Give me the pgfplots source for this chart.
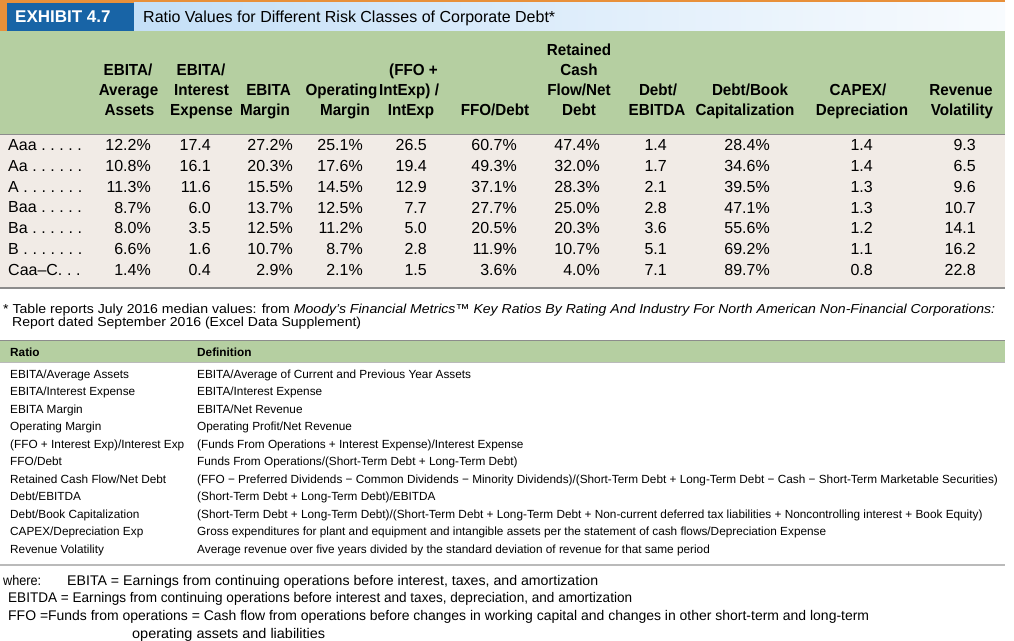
\documentclass[border=0pt]{standalone}
\usepackage{pgfplots}
\pgfplotsset{compat=1.18}
\usepackage{graphicx}
\usepackage{fontspec}
\setmainfont{Liberation Sans}
\definecolor{exorange}{RGB}{232,144,58}
\definecolor{exblue}{RGB}{24,100,166}
\definecolor{titleL}{RGB}{196,223,247}
\definecolor{titleR}{RGB}{248,251,254}
\definecolor{exgreen}{RGB}{181,207,161}
\definecolor{exbeige}{RGB}{241,235,230}
\definecolor{exline}{RGB}{140,140,140}
\newcommand{\dfont}{\fontsize{16bp}{19bp}\selectfont}
\newcommand{\hfont}{\fontsize{16bp}{19bp}\selectfont\bfseries}
\newcommand{\sfont}{\fontsize{11.8bp}{14bp}\selectfont}
\newcommand{\dt}{\hspace{4.6bp}.}
\begin{document}
\begin{tikzpicture}
\begin{scope}[x=1bp, y=-1bp, shift={(0bp,640bp)}]
\path (0,0) rectangle (1014,640);
\fill[exorange] (0,0) rectangle (1005,3);
\fill[exorange] (0,0) rectangle (7,31);
\fill[exblue] (7,3) rectangle (134,31);
\shade[left color=titleL, right color=titleR] (134,3) rectangle (1005,31);
\fill[exgreen] (0,31) rectangle (1005,134);
\fill[exline] (0,134) rectangle (1005,135.5);
\fill[exbeige] (0,135.5) rectangle (1005,287);
\fill[exline] (0,287) rectangle (1005,289);
\fill[exline] (0,340) rectangle (1005,341.5);
\fill[exgreen] (0,341.5) rectangle (1005,362);
\fill[exline!60] (0,362) rectangle (1005,363);
\fill[exline!60] (0,564) rectangle (1005,566);
\end{scope}
\begin{axis}[at={(0,0)}, anchor=south west, scale only axis, width=1014bp, height=640bp,
  xmin=0, xmax=1014, ymin=0, ymax=640, y dir=reverse,
  hide axis, clip=false,
  every node near coord/.append style={anchor=base east, font=\dfont, text=black, inner sep=0pt},
  ]
\addplot[draw=none, mark=none, nodes near coords, point meta=explicit symbolic] coordinates {
 (151,150.3)[12.2\%] (151,171.2)[10.8\%] (151,192.1)[11.3\%] (151,213.0)[8.7\%] (151,233.9)[8.0\%] (151,254.8)[6.6\%] (151,275.7)[1.4\%]};
\addplot[draw=none, mark=none, nodes near coords, point meta=explicit symbolic] coordinates {
 (211,150.3)[17.4] (211,171.2)[16.1] (211,192.1)[11.6] (211,213.0)[6.0] (211,233.9)[3.5] (211,254.8)[1.6] (211,275.7)[0.4]};
\addplot[draw=none, mark=none, nodes near coords, point meta=explicit symbolic] coordinates {
 (293,150.3)[27.2\%] (293,171.2)[20.3\%] (293,192.1)[15.5\%] (293,213.0)[13.7\%] (293,233.9)[12.5\%] (293,254.8)[10.7\%] (293,275.7)[2.9\%]};
\addplot[draw=none, mark=none, nodes near coords, point meta=explicit symbolic] coordinates {
 (363,150.3)[25.1\%] (363,171.2)[17.6\%] (363,192.1)[14.5\%] (363,213.0)[12.5\%] (363,233.9)[11.2\%] (363,254.8)[8.7\%] (363,275.7)[2.1\%]};
\addplot[draw=none, mark=none, nodes near coords, point meta=explicit symbolic] coordinates {
 (427,150.3)[26.5] (427,171.2)[19.4] (427,192.1)[12.9] (427,213.0)[7.7] (427,233.9)[5.0] (427,254.8)[2.8] (427,275.7)[1.5]};
\addplot[draw=none, mark=none, nodes near coords, point meta=explicit symbolic] coordinates {
 (517,150.3)[60.7\%] (517,171.2)[49.3\%] (517,192.1)[37.1\%] (517,213.0)[27.7\%] (517,233.9)[20.5\%] (517,254.8)[11.9\%] (517,275.7)[3.6\%]};
\addplot[draw=none, mark=none, nodes near coords, point meta=explicit symbolic] coordinates {
 (600,150.3)[47.4\%] (600,171.2)[32.0\%] (600,192.1)[28.3\%] (600,213.0)[25.0\%] (600,233.9)[20.3\%] (600,254.8)[10.7\%] (600,275.7)[4.0\%]};
\addplot[draw=none, mark=none, nodes near coords, point meta=explicit symbolic] coordinates {
 (667,150.3)[1.4] (667,171.2)[1.7] (667,192.1)[2.1] (667,213.0)[2.8] (667,233.9)[3.6] (667,254.8)[5.1] (667,275.7)[7.1]};
\addplot[draw=none, mark=none, nodes near coords, point meta=explicit symbolic] coordinates {
 (770,150.3)[28.4\%] (770,171.2)[34.6\%] (770,192.1)[39.5\%] (770,213.0)[47.1\%] (770,233.9)[55.6\%] (770,254.8)[69.2\%] (770,275.7)[89.7\%]};
\addplot[draw=none, mark=none, nodes near coords, point meta=explicit symbolic] coordinates {
 (873,150.3)[1.4] (873,171.2)[1.4] (873,192.1)[1.3] (873,213.0)[1.3] (873,233.9)[1.2] (873,254.8)[1.1] (873,275.7)[0.8]};
\addplot[draw=none, mark=none, nodes near coords, point meta=explicit symbolic] coordinates {
 (976,150.3)[9.3] (976,171.2)[6.5] (976,192.1)[9.6] (976,213.0)[10.7] (976,233.9)[14.1] (976,254.8)[16.2] (976,275.7)[22.8]};
\end{axis}
\begin{scope}[x=1bp, y=-1bp, shift={(0bp,640bp)}]
% title
\node[anchor=base west, inner sep=0pt, text=white, font=\fontsize{17bp}{19bp}\selectfont\bfseries] at (15,23) {EXHIBIT 4.7};
\node[anchor=base west, inner sep=0pt, font=\fontsize{16bp}{19bp}\selectfont] at (143,23) {Ratio Values for Different Risk Classes of Corporate Debt*};
% column headers
\foreach \x/\y/\t in {
 128/75.8/{EBITA/}, 128.5/95.8/{Average}, 129.5/115.8/{Assets},
 201/75.8/{EBITA/}, 201.5/95.8/{Interest}, 201.5/115.8/{Expense},
 268.5/95.8/{EBITA}, 265/115.8/{Margin},
 341.5/95.8/{Operating}, 345/115.8/{Margin},
 413.5/75.8/{(FFO +}, 409/95.8/{IntExp) /}, 411/115.8/{IntExp},
 495/115.8/{FFO/Debt},
 579/55.8/{Retained}, 579/75.8/{Cash}, 579/95.8/{Flow/Net}, 579/115.8/{Debt},
 658/95.8/{Debt/}, 657/115.8/{EBITDA},
 750/95.8/{Debt/Book}, 745/115.8/{Capitalization},
 858/95.8/{CAPEX/}, 862/115.8/{Depreciation},
 961/95.8/{Revenue}, 962/115.8/{Volatility}}
 {\node[anchor=base, inner sep=0pt, font=\hfont] at (\x,\y) {\scalebox{0.95}[1]{\t}};}
% row labels
\foreach \y/\t in {150.3/{Aaa\dt\dt\dt\dt\dt}, 171.2/{Aa\dt\dt\dt\dt\dt\dt}, 192.1/{A\dt\dt\dt\dt\dt\dt\dt},
  213.0/{Baa\dt\dt\dt\dt\dt}, 233.9/{Ba\dt\dt\dt\dt\dt\dt}, 254.8/{B\dt\dt\dt\dt\dt\dt\dt}, 275.7/{Caa–C.\dt\dt}}
 {\node[anchor=base west, inner sep=0pt, font=\dfont] at (8,\y) {\t};}
% footnote
\node[anchor=base west, inner sep=0pt, font=\fontsize{13bp}{15bp}\selectfont] at (3,313.5)
 {\resizebox{992bp}{\height}{* Table reports July 2016 median values: from \textit{Moody’s Financial Metrics™ Key Ratios By Rating And Industry For North American Non-Financial Corporations:}}};
\node[anchor=base west, inner sep=0pt, font=\fontsize{13bp}{15bp}\selectfont] at (12,326.5)
 {\resizebox{349bp}{\height}{Report dated September 2016 (Excel Data Supplement)}};
% definitions
\node[anchor=base west, inner sep=0pt, font=\sfont\bfseries] at (10,356.3) {Ratio};
\node[anchor=base west, inner sep=0pt, font=\sfont\bfseries] at (197,356.3) {Definition};
\foreach \i/\a/\b in {
 0/{EBITA/Average Assets}/{EBITA/Average of Current and Previous Year Assets},
 1/{EBITA/Interest Expense}/{EBITA/Interest Expense},
 2/{EBITA Margin}/{EBITA/Net Revenue},
 3/{Operating Margin}/{Operating Profit/Net Revenue},
 4/{(FFO + Interest Exp)/Interest Exp}/{(Funds From Operations + Interest Expense)/Interest Expense},
 5/{FFO/Debt}/{Funds From Operations/(Short-Term Debt + Long-Term Debt)},
 6/{Retained Cash Flow/Net Debt}/{(FFO − Preferred Dividends − Common Dividends − Minority Dividends)/(Short-Term Debt + Long-Term Debt − Cash − Short-Term Marketable Securities)},
 7/{Debt/EBITDA}/{(Short-Term Debt + Long-Term Debt)/EBITDA},
 8/{Debt/Book Capitalization}/{(Short-Term Debt + Long-Term Debt)/(Short-Term Debt + Long-Term Debt + Non-current deferred tax liabilities + Noncontrolling interest + Book Equity)},
 9/{CAPEX/Depreciation Exp}/{Gross expenditures for plant and equipment and intangible assets per the statement of cash flows/Depreciation Expense},
 10/{Revenue Volatility}/{Average revenue over five years divided by the standard deviation of revenue for that same period}}
 {\pgfmathsetmacro{\yy}{378.3+17.5*\i}
  \node[anchor=base west, inner sep=0pt, font=\sfont] at (10,\yy) {\a};
  \node[anchor=base west, inner sep=0pt, font=\sfont] at (197,\yy) {\b};}
% where
\node[anchor=base west, inner sep=0pt, font=\fontsize{14bp}{16bp}\selectfont] at (3,585) {\resizebox{38bp}{\height}{where:}};
\node[anchor=base west, inner sep=0pt, font=\fontsize{14bp}{16bp}\selectfont] at (67,585) {\resizebox{531bp}{\height}{EBITA = Earnings from continuing operations before interest, taxes, and amortization}};
\node[anchor=base west, inner sep=0pt, font=\fontsize{14bp}{16bp}\selectfont] at (8,602) {\resizebox{624bp}{\height}{EBITDA = Earnings from continuing operations before interest and taxes, depreciation, and amortization}};
\node[anchor=base west, inner sep=0pt, font=\fontsize{14bp}{16bp}\selectfont] at (8,620) {\resizebox{861bp}{\height}{FFO =Funds from operations = Cash flow from operations before changes in working capital and changes in other short-term and long-term}};
\node[anchor=base west, inner sep=0pt, font=\fontsize{14bp}{16bp}\selectfont] at (132,638) {\resizebox{193bp}{\height}{operating assets and liabilities}};
\end{scope}
\end{tikzpicture}
\end{document}
